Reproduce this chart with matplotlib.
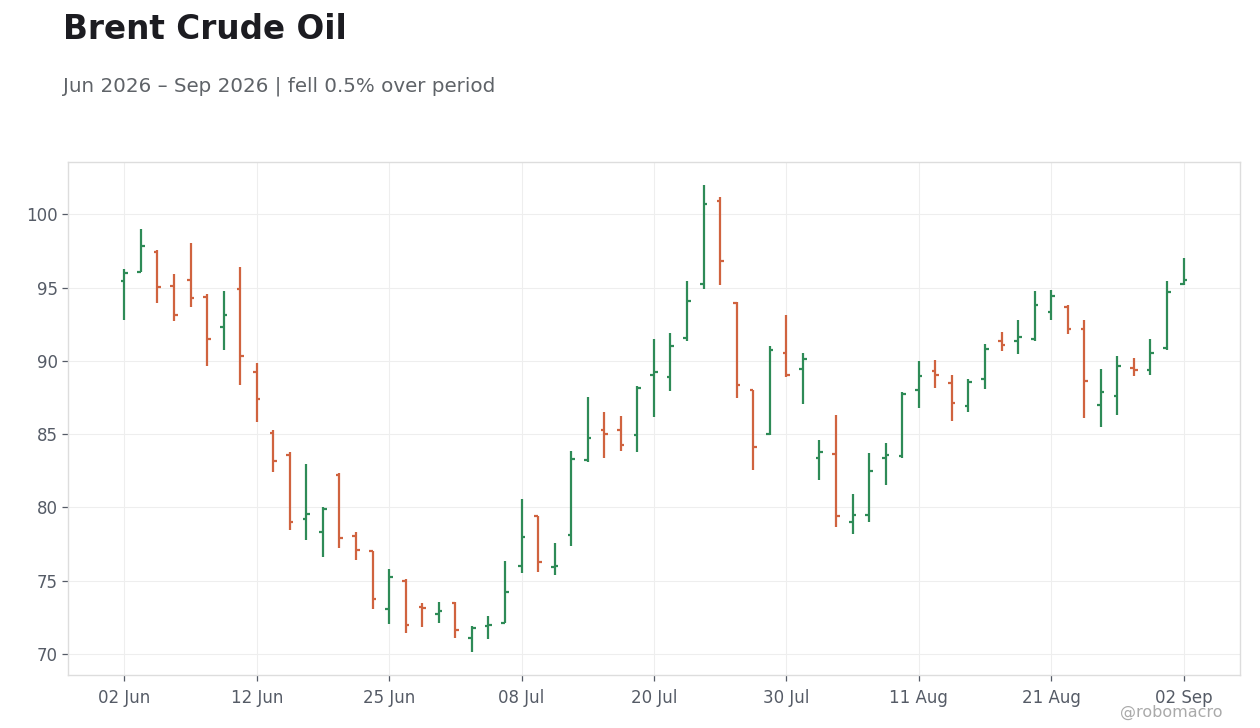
import numpy as np
import pandas as pd
import matplotlib
matplotlib.use("Agg")
import matplotlib.pyplot as plt

# trading days, Jun 2 - Sep 2 2026 (US holidays Jun 19, Jul 3 skipped)
start_date = "2026-06-02"
end_date = "2026-09-02"
holidays = ["2026-06-19", "2026-07-03"]

opens = [95.44, 96.04, 97.42, 95.10, 95.51, 94.35, 92.30, 94.90, 89.22, 85.05,
         83.55, 79.22, 78.35, 82.23, 78.06, 76.99, 73.09, 74.94, 73.18, 72.75,
         73.44, 71.10, 71.87, 72.11, 76.03, 79.38, 75.96, 78.08, 83.25, 85.26,
         85.26, 84.94, 89.02, 88.90, 91.55, 95.24, 100.91, 93.94, 87.99, 84.99,
         90.52, 89.43, 83.36, 83.62, 78.97, 79.45, 83.34, 83.53, 87.99, 89.29,
         88.47, 86.90, 88.74, 91.34, 91.34, 91.52, 93.33, 93.67, 92.16, 86.96,
         87.59, 89.50, 89.36, 90.86, 95.24]
highs = [96.24, 98.97, 97.54, 95.90, 98.02, 94.53, 94.74, 96.38, 89.88, 85.30,
         83.78, 82.98, 80.02, 82.34, 78.31, 76.99, 75.78, 75.10, 73.46, 73.53,
         73.51, 71.90, 72.59, 76.35, 80.59, 79.43, 77.58, 83.87, 87.56, 86.53,
         86.26, 88.31, 91.46, 91.91, 95.42, 101.98, 101.16, 93.99, 88.04, 91.04,
         93.16, 90.56, 84.62, 86.33, 80.93, 83.73, 84.42, 87.90, 90.02, 90.09,
         89.00, 88.79, 91.18, 92.00, 92.82, 94.74, 94.81, 93.78, 92.82, 89.47,
         90.36, 90.16, 91.52, 95.42, 96.99]
lows = [92.82, 96.06, 93.92, 92.69, 93.64, 89.63, 90.77, 88.38, 85.80, 82.39,
        78.47, 77.79, 76.62, 77.26, 76.42, 73.09, 72.05, 71.45, 71.86, 72.13,
        71.05, 70.15, 71.04, 72.09, 75.49, 75.62, 75.35, 77.34, 83.07, 83.35,
        83.82, 83.75, 86.15, 87.94, 91.34, 94.87, 95.17, 87.44, 82.55, 84.96,
        88.90, 87.04, 81.85, 78.69, 78.15, 78.97, 81.50, 83.34, 86.76, 88.13,
        85.87, 86.50, 88.06, 90.66, 90.45, 91.34, 92.78, 91.82, 86.09, 85.46,
        86.28, 88.95, 89.02, 90.73, 95.17]
closes = [95.97, 97.81, 95.03, 93.12, 94.28, 91.46, 93.12, 90.36, 87.38, 83.19,
          78.97, 79.58, 79.86, 77.94, 77.10, 73.77, 75.26, 71.98, 73.12, 72.96,
          71.60, 71.80, 72.00, 74.19, 78.01, 76.28, 76.03, 83.32, 84.76, 84.99,
          84.24, 88.13, 89.22, 90.98, 94.07, 100.68, 96.81, 88.38, 84.09, 90.72,
          89.00, 90.12, 83.77, 79.38, 79.45, 82.50, 83.55, 87.74, 88.96, 89.00,
          87.10, 88.54, 90.84, 91.07, 91.62, 93.80, 94.42, 92.14, 88.60, 87.85,
          89.68, 89.36, 90.52, 94.69, 95.51]

up_color = "#2e8b57"
down_color = "#d0633f"

dates = pd.bdate_range(start_date, end_date, freq="C", holidays=holidays)
o = np.array(opens)
h = np.array(highs)
l = np.array(lows)
c = np.array(closes)
x = np.arange(len(o))
colors = [up_color if cc >= oo else down_color for oo, cc in zip(o, c)]

fig = plt.figure(figsize=(12.6, 7.28), dpi=100)
ax = fig.add_axes([0.054, 0.0728, 0.930, 0.7047])

tw = 0.22
ax.vlines(x, l, h, colors=colors, linewidth=1.6, zorder=3)
ax.hlines(o, x - tw, x, colors=colors, linewidth=1.6, zorder=3)
ax.hlines(c, x, x + tw, colors=colors, linewidth=1.6, zorder=3)

ax.set_xlim(-3.4, len(x) - 1 + 3.4)
pad = (h.max() - l.min()) * 0.05
ax.set_ylim(l.min() - pad, h.max() + pad)
ax.set_yticks([70, 75, 80, 85, 90, 95, 100])

tick_pos = x[::8]
ax.set_xticks(tick_pos)
ax.set_xticklabels([dates[i].strftime("%d %b") for i in tick_pos])

ax.grid(True, color="#eeeeee", linewidth=0.8, zorder=0)
ax.set_axisbelow(True)
for s in ax.spines.values():
    s.set_color("#dddddd")
    s.set_linewidth(1.0)
ax.tick_params(axis="both", colors="#555b66", labelsize=12, length=4, width=0.9)
ax.tick_params(axis="x", pad=6)

chg = (c[-1] - c[0]) / c[0] * 100
word = "rose" if chg >= 0 else "fell"
fig.text(0.05, 0.946, "Brent Crude Oil", fontsize=23.5, fontweight="bold",
         color="#1c1c21", va="baseline")
fig.text(0.05, 0.874,
         f"{dates[0].strftime('%b %Y')} \u2013 {dates[-1].strftime('%b %Y')} | {word} {abs(chg):.1f}% over period",
         fontsize=14.3, color="#5f6368", va="baseline")
fig.text(0.970, 0.016, "@robomacro", fontsize=11.5, color="#aaaaaa",
         ha="right", va="baseline")

fig.savefig("out.png", dpi=100, facecolor="white")
